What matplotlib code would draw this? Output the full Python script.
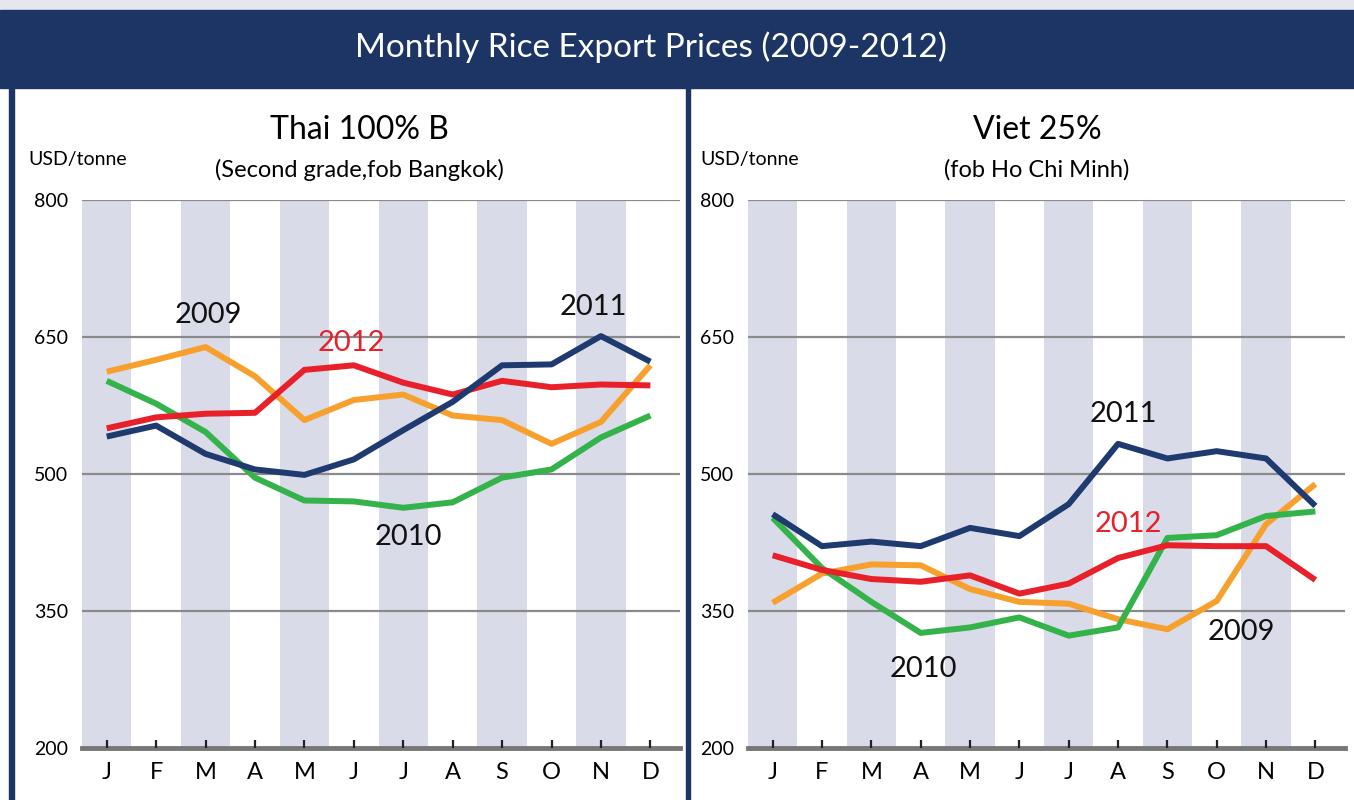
import numpy as np
import matplotlib
matplotlib.use("Agg")
import matplotlib.pyplot as plt
from matplotlib.patches import Rectangle

plt.rcParams['font.family'] = ['Lato', 'DejaVu Sans']

# Data (USD/tonne)
months = ['J', 'F', 'M', 'A', 'M', 'J', 'J', 'A', 'S', 'O', 'N', 'D']

thai_2009 = [612, 625, 639, 607, 559, 581, 587, 564, 559, 533, 557, 619]
thai_2010 = [602, 577, 546, 496, 471, 470, 463, 469, 496, 505, 540, 564]
thai_2011 = [541, 553, 522, 505, 499, 516, 548, 579, 619, 620, 651, 623]
thai_2012 = [550, 562, 566, 567, 614, 619, 600, 587, 602, 595, 598, 597]

viet_2009 = [359, 391, 401, 400, 374, 360, 358, 341, 330, 361, 445, 489]
viet_2010 = [452, 397, 360, 326, 332, 343, 323, 332, 430, 433, 454, 459]
viet_2011 = [456, 421, 426, 421, 441, 432, 467, 533, 517, 525, 517, 465]
viet_2012 = [411, 395, 385, 382, 389, 369, 380, 408, 422, 421, 421, 384]

# label positions (month index, value)
thai_labels = {'2009': (2.05, 674), '2012': (4.95, 643), '2011': (9.85, 683), '2010': (6.1, 431)}
viet_labels = {'2011': (7.1, 566), '2012': (7.2, 445), '2009': (9.5, 327), '2010': (3.05, 287)}

colors = {'2009': '#f7a02e', '2010': '#34b34a', '2011': '#1f3a6f', '2012': '#e8202a'}
navy = '#1c3564'
band = '#d9dbe9'

fig = plt.figure(figsize=(13.54, 8), dpi=100)
fig.patch.set_facecolor('white')

W, H = 1354.0, 800.0
def frect(x0, y0, x1, y1, color):
    fig.patches.append(Rectangle((x0 / W, 1 - y1 / H), (x1 - x0) / W, (y1 - y0) / H,
                                 transform=fig.transFigure, color=color, zorder=0))

frect(0, 0, W, 10, '#e6e7ee')
frect(0, 10, W, 88, navy)
frect(9, 88, 14, H, navy)
frect(686, 88, 690, H, navy)

fig.text(651 / W, 1 - 47 / H, 'Monthly Rice Export Prices (2009-2012)', color='white',
         fontsize=24, ha='center', va='center')


def panel(left_px, right_px, center_px, title, subtitle, series, labels, unit_x):
    ax = fig.add_axes([left_px / W, 1 - 748 / H, (right_px - left_px) / W, 548 / H])
    x = np.arange(len(months))
    for i in range(0, 12, 2):
        ax.axvspan(i - 0.5, i + 0.5, color=band, lw=0, zorder=0)
    for v in [350, 500, 650, 800]:
        ax.axhline(v, color='#8a8a8a', lw=1.6, zorder=1)
    ax.axhline(200, color='#777777', lw=3.5, zorder=1, clip_on=False)
    for yr in ['2009', '2010', '2012', '2011']:
        ax.plot(x, series[yr], color=colors[yr], lw=4.3, zorder=3, solid_capstyle='butt')
    for yr, (lx, ly) in labels.items():
        ax.text(lx, ly, yr, fontsize=21, ha='center', va='center',
                color=colors['2012'] if yr == '2012' else '#111111', zorder=4)
    ax.set_xlim(-0.5, 11.6)
    ax.set_ylim(200, 800)
    ax.set_xticks(x)
    ax.set_xticklabels(months, fontsize=17)
    ax.set_yticks([200, 350, 500, 650, 800])
    ax.tick_params(axis='x', direction='in', length=6, width=1.6, color='#222222', pad=10)
    ax.tick_params(axis='y', length=0, pad=10, labelsize=14)
    for s in ax.spines.values():
        s.set_visible(False)
    ax.set_facecolor('none')
    cx = center_px / W
    fig.text(cx, 1 - 130 / H, title, fontsize=23, ha='center', va='center')
    fig.text(cx, 1 - 170 / H, subtitle, fontsize=17, ha='center', va='center')
    fig.text(unit_x / W, 1 - 160 / H, 'USD/tonne', fontsize=14, ha='left', va='center')
    return ax


panel(82, 680, 359, 'Thai 100% B', '(Second grade,fob Bangkok)',
      {'2009': thai_2009, '2010': thai_2010, '2011': thai_2011, '2012': thai_2012},
      thai_labels, 28)
panel(748, 1345, 1037, 'Viet 25%', '(fob Ho Chi Minh)',
      {'2009': viet_2009, '2010': viet_2010, '2011': viet_2011, '2012': viet_2012},
      viet_labels, 700)

fig.savefig('out.png', dpi=100)
